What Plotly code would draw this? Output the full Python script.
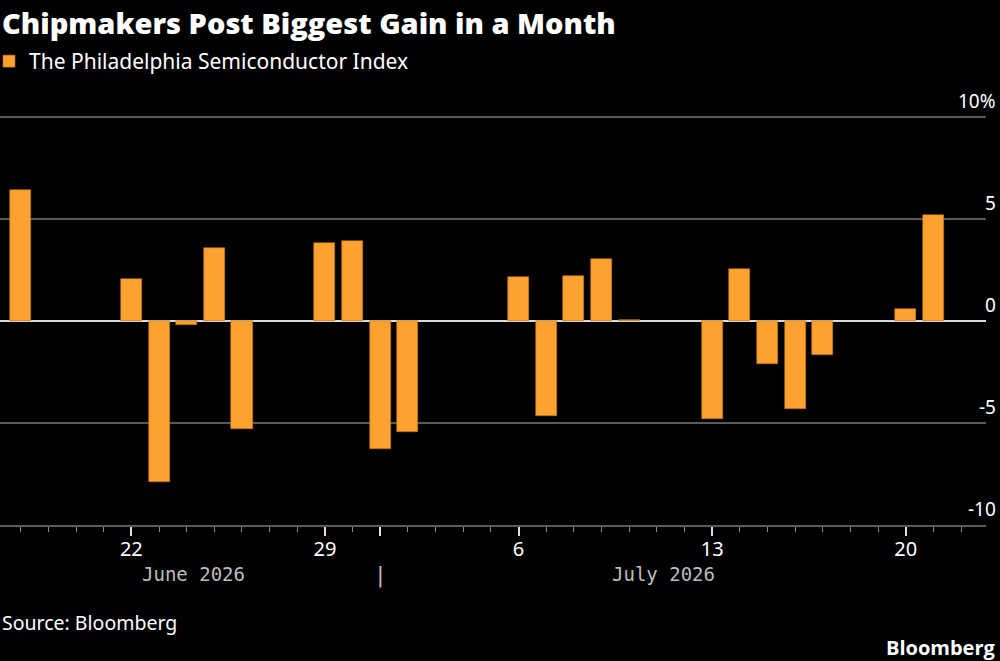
import plotly.graph_objects as go

dates = ["2026-06-18", "2026-06-22", "2026-06-23", "2026-06-24", "2026-06-25", "2026-06-26",
         "2026-06-29", "2026-06-30", "2026-07-01", "2026-07-02",
         "2026-07-06", "2026-07-07", "2026-07-08", "2026-07-09", "2026-07-10",
         "2026-07-13", "2026-07-14", "2026-07-15", "2026-07-16", "2026-07-17",
         "2026-07-20", "2026-07-21"]
changes = [6.42, 2.04, -7.88, -0.18, 3.57, -5.28,
           3.83, 3.93, -6.28, -5.45,
           2.17, -4.66, 2.22, 3.04, 0.05,
           -4.8, 2.53, -2.1, -4.3, -1.66,
           0.59, 5.2]

series_name = "The Philadelphia Semiconductor Index"
y_ticks = [10, 5, 0, -5, -10]
y_tick_labels = ["10%", "5", "0", "-5", "-10"]
x_tickvals = ["2026-06-22", "2026-06-29", "2026-07-01", "2026-07-06", "2026-07-13", "2026-07-20"]
x_ticktext = ["22", "29", "", "6", "13", "20"]
month_labels = ["June 2026", "July 2026"]
month_label_pos = ["2026-06-24 06:00", "2026-07-11 06:00"]
month_sep = "2026-07-01"

ORANGE = "#fda22e"
GRID = "#5a5a5a"

W, H = 1000, 661
PL, PR, PT, PB = 0, 14, 114, 136
plot_w = W - PL - PR
plot_h = H - PT - PB


def py(pixel_y):
    return (H - PB - pixel_y) / plot_h


def px(pixel_x):
    return (pixel_x - PL) / plot_w


fig = go.Figure()
fig.add_trace(go.Bar(
    x=dates, y=changes, name=series_name,
    marker=dict(color=ORANGE, line=dict(color="#b8701a", width=0.6)),
    width=0.76 * 86400000,
    showlegend=True,
))

annotations = []
for v, t in zip(y_ticks, y_tick_labels):
    annotations.append(dict(
        x=px(998), xref="paper", y=v, yref="y", text=t, showarrow=False,
        xanchor="right", yanchor="bottom", yshift=1,
        font=dict(family="Noto Sans, Open Sans, sans-serif", size=19, color="#ffffff"),
    ))
for lbl, pos in zip(month_labels, month_label_pos):
    annotations.append(dict(
        x=pos, xref="x", y=py(574), yref="paper", text=lbl, showarrow=False,
        xanchor="center", yanchor="middle",
        font=dict(family="DejaVu Sans Mono, monospace", size=19, color="#bdbdbd"),
    ))
annotations.append(dict(
    x=month_sep, xref="x", y=py(575), yref="paper", text="|", showarrow=False,
    xanchor="center", yanchor="middle",
    font=dict(family="DejaVu Sans Mono, monospace", size=21, color="#bdbdbd"),
))
annotations.append(dict(
    x=px(0), xref="paper", y=py(1), yref="paper", yanchor="top", xanchor="left",
    text="Chipmakers Post Biggest Gain in a Month", showarrow=False,
    font=dict(family="Open Sans, sans-serif", size=29, weight=800, color="#ffffff"),
))
annotations.append(dict(
    x=px(0), xref="paper", y=py(622), yref="paper", yanchor="middle", xanchor="left",
    text="Source: Bloomberg", showarrow=False,
    font=dict(family="Noto Sans, Open Sans, sans-serif", size=19.5, color="#ffffff"),
))
annotations.append(dict(
    x=px(998), xref="paper", y=py(647), yref="paper", yanchor="middle", xanchor="right",
    text="<b>Bloomberg</b>", showarrow=False,
    font=dict(family="Open Sans, sans-serif", size=20, color="#ffffff"),
))

fig.update_layout(
    width=W, height=H,
    paper_bgcolor="#000000", plot_bgcolor="#000000",
    margin=dict(l=PL, r=PR, t=PT, b=PB),
    bargap=0,
    showlegend=True,
    legend=dict(
        orientation="h", xref="container", yref="container",
        x=0, y=(H - 41) / H, xanchor="left", yanchor="top",
        indentation=-11,
        font=dict(family="Noto Sans, Open Sans, sans-serif", size=21, color="#ffffff"),
        bgcolor="rgba(0,0,0,0)",
    ),
    xaxis=dict(
        type="date",
        range=["2026-06-17 06:00", "2026-07-22 21:40"],
        tickmode="array", tickvals=x_tickvals, ticktext=x_ticktext,
        ticks="outside", ticklen=9, tickwidth=2, tickcolor="#e0e0e0",
        ticklabelstandoff=-4,
        tickfont=dict(family="Noto Sans, Open Sans, sans-serif", size=20, color="#ffffff"),
        showgrid=False, showline=True, linecolor=GRID, linewidth=2,
        minor=dict(ticks="outside", ticklen=5, tickcolor="#888888", tickwidth=1,
                   dtick=86400000, tick0="2026-06-18", showgrid=False),
        fixedrange=True,
    ),
    yaxis=dict(
        range=[-10, 10.15],
        tickvals=y_ticks, showticklabels=False,
        showgrid=True, gridcolor=GRID, gridwidth=1.5,
        zeroline=True, zerolinecolor="#d9d9d9", zerolinewidth=2,
        ticks="",
        fixedrange=True,
    ),
    annotations=annotations,
)

fig.write_html("out.html")
